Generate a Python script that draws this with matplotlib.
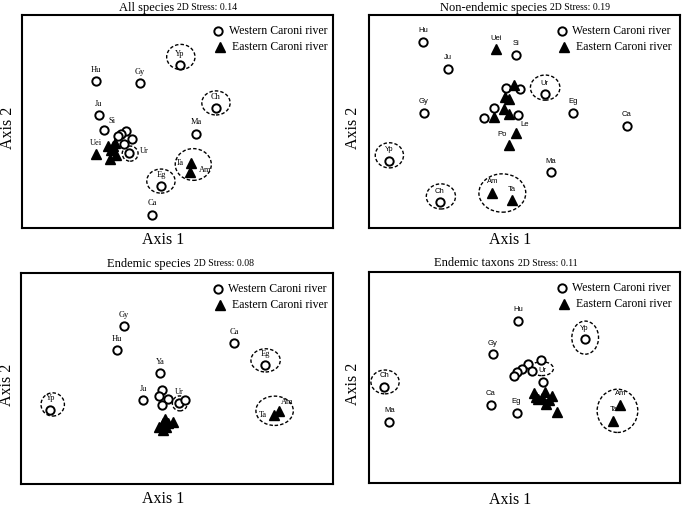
import numpy as np
import matplotlib
matplotlib.use('Agg')
import matplotlib.pyplot as plt
from matplotlib.patches import Ellipse

SERIF = 'Liberation Serif'
SANS = 'Liberation Sans'

# ---- panel data (NMDS scores, arbitrary 0-100 units) ----
# All species
p1_west_names = ['Yp', 'Hu', 'Gy', 'Ch', 'Ju', 'Si', 'Ma', '', '', '', '', '', 'Ur', 'Eg', 'Ca']
p1_west_x = [50.8, 23.7, 38.0, 62.4, 24.7, 26.4, 56.1, 33.5, 31.8, 31.0, 35.5, 32.8, 34.5, 44.7, 41.9]
p1_west_y = [76.4, 69.0, 68.3, 56.4, 53.1, 46.2, 44.4, 45.6, 44.4, 43.1, 42.0, 39.5, 35.4, 19.6, 6.4]
p1_east_names = ['Uei', '', '', '', '', '', '', 'Ta', 'Am']
p1_east_x = [23.7, 27.8, 29.2, 29.9, 28.3, 30.3, 28.8, 54.5, 54.0]
p1_east_y = [35.0, 38.6, 38.6, 40.0, 32.6, 34.2, 36.5, 30.6, 26.6]
p1_groups = [(51.1, 80.4, 9.1, 11.8), (62.4, 58.8, 9.1, 11.3), (34.8, 35.0, 5.1, 7.1),
             (44.7, 22.1, 9.1, 11.3), (55.1, 29.9, 11.6, 14.9)]
p1_lab = {'Ur': 'right', 'Si': 'upright', 'Ta': 'left', 'Am': 'right'}

# Non-endemic species
p2_west_names = ['Hu', 'Si', 'Ju', '', '', '', '', '', 'Ur', 'Gy', 'Eg', 'Ca', 'Yp', 'Ma', 'Ch']
p2_west_x = [17.4, 47.3, 25.5, 44.0, 48.6, 40.2, 37.1, 47.8, 56.5, 17.6, 65.8, 83.0, 6.3, 58.6, 22.8]
p2_west_y = [87.5, 81.5, 74.9, 65.8, 65.5, 56.6, 51.6, 53.1, 62.9, 54.1, 54.2, 48.0, 31.5, 26.3, 12.2]
p2_east_names = ['Uei', '', '', '', '', '', '', 'Le', 'Po', 'Am', 'Ta']
p2_east_x = [40.8, 46.7, 43.6, 45.0, 43.4, 45.2, 40.2, 47.3, 45.2, 39.7, 46.1]
p2_east_y = [83.9, 67.1, 61.6, 60.8, 56.1, 53.8, 52.2, 44.8, 38.9, 16.5, 13.0]
p2_groups = [(56.7, 66.0, 9.5, 11.8), (6.5, 34.2, 9.1, 11.8), (23.1, 14.9, 9.4, 11.8),
             (42.9, 16.5, 15.1, 18.0)]
p2_lab = {'Le': 'upright', 'Po': 'upleft'}

# Endemic species
p3_west_names = ['Gy', 'Hu', 'Ca', 'Eg', 'Ya', 'Ju', '', '', '', '', 'Ur', '', 'Yp']
p3_west_x = [33.0, 30.6, 68.3, 78.3, 44.5, 39.2, 45.1, 44.1, 47.0, 45.3, 50.7, 52.5, 9.3]
p3_west_y = [74.8, 63.5, 67.1, 56.4, 52.8, 39.8, 44.6, 41.7, 40.3, 37.5, 38.6, 39.8, 35.4]
p3_east_names = ['', '', '', '', '', '', '', 'Am', 'Ta']
p3_east_x = [45.6, 46.6, 45.4, 48.6, 44.3, 47.2, 46.1, 82.7, 81.0]
p3_east_y = [28.8, 27.2, 25.7, 29.6, 27.2, 28.8, 30.7, 34.8, 32.8]
p3_groups = [(10.1, 37.8, 7.5, 11.0), (50.9, 38.3, 4.8, 7.1), (78.4, 58.7, 9.4, 11.0),
             (81.3, 34.8, 12.0, 13.9)]
p3_lab = {'Ta': 'left', 'Am': 'upright'}

# Endemic taxons
p4_west_names = ['Hu', 'Yp', 'Gy', '', '', '', '', '', '', 'Ur', 'Ch', 'Ca', 'Eg', 'Ma']
p4_west_x = [48.1, 69.4, 39.8, 55.4, 51.1, 49.1, 47.5, 46.5, 52.6, 55.9, 4.8, 39.1, 47.5, 6.5]
p4_west_y = [76.9, 68.2, 61.1, 58.6, 56.4, 54.3, 52.8, 50.7, 53.2, 48.0, 45.7, 37.3, 33.4, 29.1]
p4_east_names = ['', '', '', '', '', '', '', '', '', 'Am', 'Ta']
p4_east_x = [53.2, 56.5, 58.8, 54.5, 57.0, 55.6, 57.8, 60.6, 53.9, 80.9, 78.7]
p4_east_y = [42.8, 43.3, 41.4, 39.8, 37.5, 40.2, 39.4, 33.9, 40.9, 37.3, 29.6]
p4_groups = [(69.6, 69.0, 8.6, 15.7), (55.6, 54.3, 7.5, 6.6), (5.1, 48.0, 9.1, 11.3),
             (80.0, 34.3, 13.1, 20.5)]
p4_lab = {}

titles = ['All species', 'Non-endemic species', 'Endemic species', 'Endemic taxons']
stress = ['2D Stress: 0.14', '2D Stress: 0.19', '2D Stress: 0.08', '2D Stress: 0.11']

offsets = {'above': (0, 8), 'right': (11, 1), 'left': (-8, 0), 'upright': (6, 6), 'upleft': (-5, 8)}

fig = plt.figure(figsize=(6.85, 5.07), dpi=100)
rects = [[0.032, 0.550, 0.454, 0.420], [0.539, 0.550, 0.453, 0.420],
         [0.031, 0.045, 0.455, 0.416], [0.539, 0.047, 0.453, 0.416]]
title_split = [0.49, 0.572, 0.544, 0.469]
title_y = [1.036, 1.036, 1.045, 1.043]
label_fonts = [SERIF, SANS, SERIF, SANS]
label_sizes = [6, 5.5, 6, 5.5]
leg_x = [0.63, 0.62, 0.63, 0.62]
ax1_y = [-0.055, -0.055, -0.07, -0.08]
ax2_x = [-0.045, -0.052, -0.045, -0.052]

panels = [
    (p1_west_names, p1_west_x, p1_west_y, p1_east_names, p1_east_x, p1_east_y, p1_groups, p1_lab),
    (p2_west_names, p2_west_x, p2_west_y, p2_east_names, p2_east_x, p2_east_y, p2_groups, p2_lab),
    (p3_west_names, p3_west_x, p3_west_y, p3_east_names, p3_east_x, p3_east_y, p3_groups, p3_lab),
    (p4_west_names, p4_west_x, p4_west_y, p4_east_names, p4_east_x, p4_east_y, p4_groups, p4_lab),
]

for i, (wn, wx, wy, en, ex, ey, grp, lab) in enumerate(panels):
    ax = fig.add_axes(rects[i])
    ax.set_xlim(0, 100)
    ax.set_ylim(0, 100)
    ax.set_xticks([])
    ax.set_yticks([])
    for s in ax.spines.values():
        s.set_linewidth(1.5)

    # dashed rings around the isolated groups
    for cx, cy, w, h in grp:
        ax.add_patch(Ellipse((cx, cy), w, h, fill=False, ls=(0, (2.5, 1.5)), lw=1.0, color='black'))

    ax.plot(wx, wy, 'o', mfc='white', mec='black', ms=6, mew=1.4, ls='none')
    ax.plot(ex, ey, '^', color='black', ms=6.5, ls='none')

    for names, xs, ys in [(wn, wx, wy), (en, ex, ey)]:
        for n, x, y in zip(names, xs, ys):
            if not n:
                continue
            pos = lab.get(n, 'above')
            ax.annotate(n, (x, y), xytext=offsets[pos], textcoords='offset points',
                        ha='center', va='center', fontsize=label_sizes[i],
                        family=label_fonts[i])

    # legend
    lx = leg_x[i]
    ax.plot([lx], [0.925], 'o', mfc='white', mec='black', ms=6, mew=1.4, transform=ax.transAxes)
    ax.plot([lx + 0.008], [0.85], '^', color='black', ms=6.5, transform=ax.transAxes)
    ax.text(lx + 0.035, 0.925, 'Western Caroni river', transform=ax.transAxes,
            va='center', ha='left', fontsize=8.5, family=SERIF)
    ax.text(lx + 0.045, 0.85, 'Eastern Caroni river', transform=ax.transAxes,
            va='center', ha='left', fontsize=8.5, family=SERIF)

    # titles
    ax.text(title_split[i], title_y[i], titles[i], transform=ax.transAxes, ha='right', va='center',
            fontsize=9, family=SERIF)
    ax.text(title_split[i] + 0.01, title_y[i], stress[i], transform=ax.transAxes, ha='left',
            va='center', fontsize=7, family=SERIF)

    ax.text(0.455, ax1_y[i], 'Axis 1', transform=ax.transAxes, ha='center', va='center',
            fontsize=11.5, family=SERIF)
    ax.text(ax2_x[i], 0.47, 'Axis 2', transform=ax.transAxes, ha='center', va='center',
            rotation=90, fontsize=11.5, family=SERIF)

fig.savefig('out.png', dpi=100)
